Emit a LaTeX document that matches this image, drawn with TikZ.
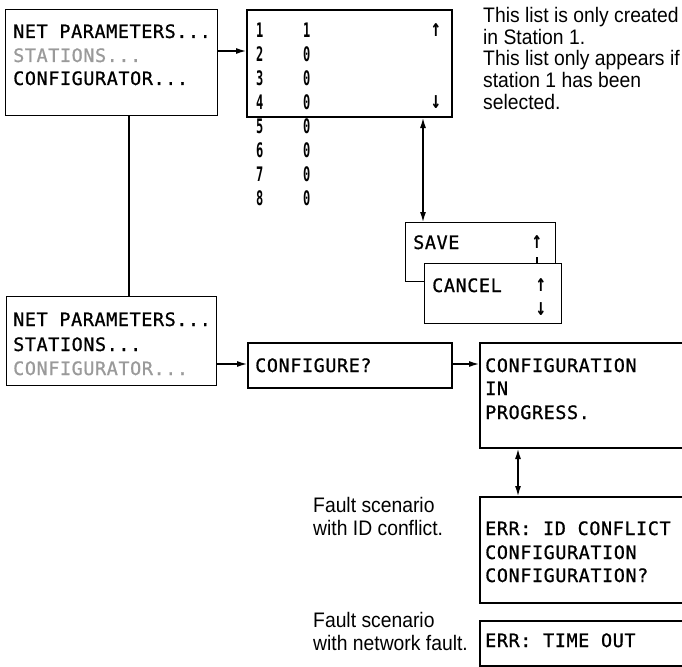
\documentclass[tikz,border=0pt]{standalone}
\usepackage{fontspec}
\setmainfont{Liberation Sans}
\newfontfamily\notefam[FakeStretch=0.92]{Liberation Sans}
\newfontfamily\lcdfam[LetterSpace=3,FakeBold=0.8]{DejaVu Sans Mono}
\newfontfamily\digfam[FakeStretch=0.6]{DejaVu Sans Mono Bold}
\newfontfamily\arrfam[FakeStretch=0.7]{DejaVu Sans Mono Bold}
\usetikzlibrary{arrows.meta}
\definecolor{dimgr}{HTML}{9A9A9A}
\tikzset{
  thinbox/.style={draw, line width=1.2pt, fill=white, inner sep=0pt, anchor=north west},
  thickbox/.style={draw, line width=2pt, fill=white, inner sep=0pt, anchor=north west},
  lcd/.style={inner sep=0pt, anchor=base west, font=\lcdfam\fontsize{18.5pt}{22pt}\selectfont},
  digit/.style={inner sep=0pt, anchor=base west, font=\digfam\fontsize{20pt}{22pt}\selectfont},
  lcdarr/.style={inner sep=0pt, anchor=center, font=\arrfam\fontsize{24pt}{26pt}\selectfont},
  note/.style={inner sep=0pt, anchor=base west, font=\notefam\fontsize{21pt}{24pt}\selectfont},
  dim/.style={text=dimgr},
  conn/.style={line width=1.2pt, -{Latex[length=10pt,width=6pt]}},
  dconn/.style={line width=1.2pt, {Latex[length=10pt,width=6pt]}-{Latex[length=10pt,width=6pt]}},
  plain/.style={line width=1.2pt}
}
\begin{document}
\begin{tikzpicture}[x=1pt,y=-1pt]
\useasboundingbox (0,0) rectangle (682,666);

% ---- top-left menu
\node[thinbox, minimum width=212pt, minimum height=106pt] (m1) at (5,9) {};
\node[lcd] (m1a) at (13,38) {NET PARAMETERS...};
\node[lcd,dim] (m1b) at (13,62) {STATIONS...};
\node[lcd] (m1c) at (13,85) {CONFIGURATOR...};

% ---- station list
\node[thickbox, minimum width=205pt, minimum height=107pt] (lst) at (246,9) {};
\foreach \i/\v in {1/1,2/0,3/0,4/0,5/0,6/0,7/0,8/0}{
  \node[digit] (r\i a) at (256,{37.3+24*(\i-1)}) {\i};
  \node[digit] (r\i b) at (303,{37.3+24*(\i-1)}) {\v};
}
\node[lcdarr] (lup) at (436,30) {↑};
\node[lcdarr] (ldn) at (436,102) {↓};

% ---- note text
\node[note] (n1) at (483,22.5) {This list is only created};
\node[note] (n2) at (483,44.5) {in Station 1.};
\node[note] (n3) at (483,66) {This list only appears if};
\node[note] (n4) at (483,88) {station 1 has been};
\node[note] (n5) at (483,109.5) {selected.};

% ---- save / cancel
\node[thinbox, minimum width=150pt, minimum height=59pt] (sv) at (405,222) {};
\node[lcd] (svt) at (413,249) {SAVE};
\node[lcdarr] (svu) at (537,242) {↑};
\coordinate (svd) at (537,257);
\node[thinbox, minimum width=137pt, minimum height=60pt] (cn) at (424,263) {};
\draw[line width=1.5pt] (svd) -- (svd |- cn.north);
\node[lcd] (cnt) at (432,292) {CANCEL};
\node[lcdarr] (cnu) at (541,285) {↑};
\node[lcdarr] (cnd) at (541,309) {↓};

% ---- second menu
\node[thinbox, minimum width=210pt, minimum height=89pt] (m2) at (6,296) {};
\node[lcd] (m2a) at (13,326) {NET PARAMETERS...};
\node[lcd] (m2b) at (13,351) {STATIONS...};
\node[lcd,dim] (m2c) at (13,375) {CONFIGURATOR...};

% ---- configure?
\node[thickbox, minimum width=204pt, minimum height=45pt] (cf) at (247,342) {};
\node[lcd] (cft) at (255,372) {CONFIGURE?};

% ---- configuration in progress
\node[thickbox, minimum width=215pt, minimum height=105pt] (cp) at (479,342) {};
\node[lcd] (cp1) at (485,372) {CONFIGURATION};
\node[lcd] (cp2) at (485,395) {IN};
\node[lcd] (cp3) at (485,419) {PROGRESS.};

% ---- error id conflict
\node[thickbox, minimum width=215pt, minimum height=106pt] (e1) at (479,496) {};
\node[lcd] (e1a) at (485,535) {ERR: ID CONFLICT};
\node[lcd] (e1b) at (485,559) {CONFIGURATION};
\node[lcd] (e1c) at (485,582) {CONFIGURATION?};
\node[note] (f1a) at (313,512) {Fault scenario};
\node[note] (f1b) at (313,535) {with ID conflict.};

% ---- error time out
\node[thickbox, minimum width=215pt, minimum height=45pt] (e2) at (479,620) {};
\node[lcd] (e2a) at (485,647) {ERR: TIME OUT};
\node[note] (f2a) at (313,627) {Fault scenario};
\node[note] (f2b) at (313,650) {with network fault.};

% ---- connectors
\coordinate (ya) at (0,51);
\coordinate (yb) at (0,364);
\coordinate (xv) at (129,0);
\coordinate (xs) at (423,0);
\coordinate (xe) at (518,0);
\draw[conn] (m1.east |- ya) -- (lst.west |- ya);
\draw[plain] (m1.south -| xv) -- (m2.north -| xv);
\draw[dconn] (lst.south -| xs) -- (sv.north -| xs);
\draw[conn] (m2.east |- yb) -- (cf.west |- yb);
\draw[conn] (cf.east |- yb) -- (cp.west |- yb);
\draw[dconn] (cp.south -| xe) -- (e1.north -| xe);
\end{tikzpicture}
\end{document}
